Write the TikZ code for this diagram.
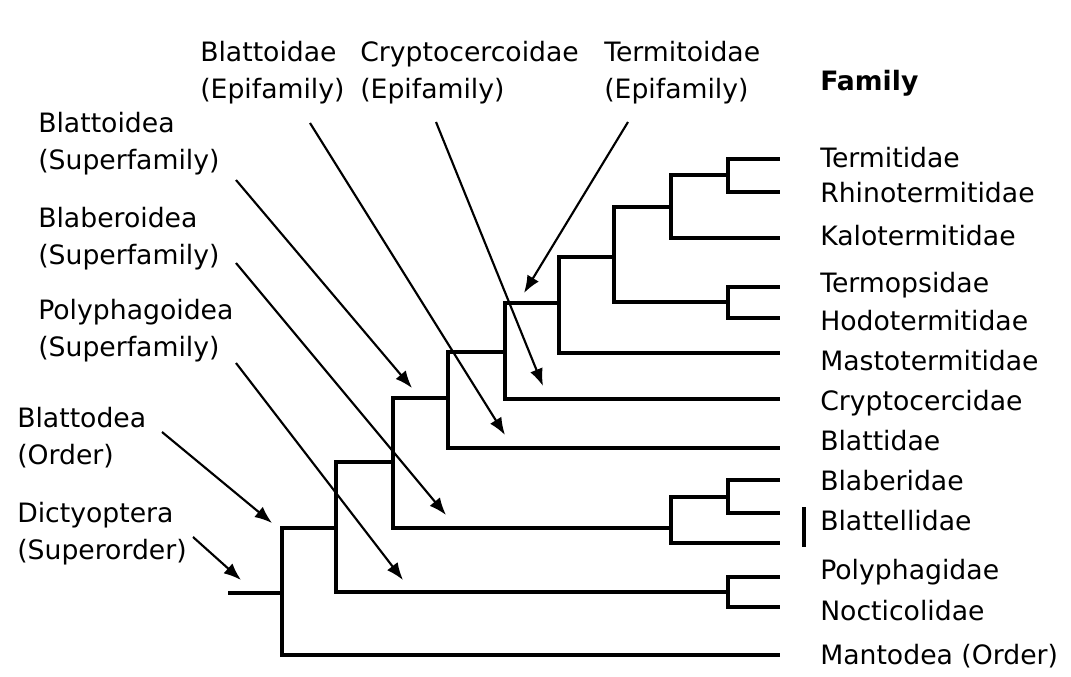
\documentclass[tikz,border=0pt]{standalone}
\usepackage{fontspec}
\setmainfont{DejaVu Sans}
\usetikzlibrary{arrows.meta,positioning}

\tikzset{
  branch/.style={line width=3pt,line join=miter},
  pointer/.style={line width=1.6pt,-{Latex[length=13pt,width=10pt]}},
  taxon/.style={anchor=west,inner sep=0pt,align=left,font=\fontsize{20}{27.75}\selectfont},
  famlabel/.style={anchor=west,inner sep=0pt,text height=0.75em,text depth=0.2em,font=\fontsize{20}{24}\selectfont}
}

\begin{document}
\begin{tikzpicture}[x=0.75pt,y=0.75pt,yscale=-1,xscale=1]
	\useasboundingbox (0,0) rectangle (1071,676);
	
	% leaf ends
	\foreach \i/\y in {1/159,2/192,3/238,4/287,5/318,6/353,7/399,8/448,9/480,10/513,11/543,12/577,13/607,14/655}
		\coordinate (t\i) at (780,\y);
	
	% inner nodes
	\coordinate (n1) at (728,175);
	\coordinate (n2) at (671,207);
	\coordinate (n3) at (728,302);
	\coordinate (n4) at (614,257);
	\coordinate (n5) at (559,303);
	\coordinate (n6) at (505,352);
	\coordinate (n7) at (448,398);
	\coordinate (n8) at (728,497);
	\coordinate (n9) at (671,528);
	\coordinate (n10) at (393,462);
	\coordinate (n11) at (728,592);
	\coordinate (n12) at (336,528);
	\coordinate (n13) at (282,593);
	\coordinate (root) at (228,593);
	
	% tree
	\draw [branch] (n1) |- (t1) (n1) |- (t2);
	\draw [branch] (n2) |- (n1) (n2) |- (t3);
	\draw [branch] (n3) |- (t4) (n3) |- (t5);
	\draw [branch] (n4) |- (n2) (n4) |- (n3);
	\draw [branch] (n5) |- (n4) (n5) |- (t6);
	\draw [branch] (n6) |- (n5) (n6) |- (t7);
	\draw [branch] (n7) |- (n6) (n7) |- (t8);
	\draw [branch] (n8) |- (t9) (n8) |- (t10);
	\draw [branch] (n9) |- (n8) (n9) |- (t11);
	\draw [branch] (n10) |- (n7) (n10) |- (n9);
	\draw [branch] (n11) |- (t12) (n11) |- (t13);
	\draw [branch] (n12) |- (n10) (n12) |- (n11);
	\draw [branch] (n13) |- (n12) (n13) |- (t14);
	\draw [branch] (root) -- (n13);
	
	% family names
	\node [famlabel,font=\fontsize{20}{24}\selectfont\bfseries] (famhead) at (820,87) {Family};
	\foreach \i/\y/\txt in {1/164/Termitidae,2/199/Rhinotermitidae,3/242/Kalotermitidae,4/289/Termopsidae,5/327/Hodotermitidae,6/367/Mastotermitidae,7/407/Cryptocercidae,8/447/Blattidae,9/487/Blaberidae,10/527/Blattellidae,12/576/Polyphagidae,13/617/Nocticolidae,14/661/Mantodea (Order)}
		\node [famlabel] (fam\i) at (820,\y) {\txt};
	\coordinate (bartop) at (804,507);
	\coordinate (barbot) at (804,547);
	\draw [line width=2.4pt] (bartop) -- (barbot);
	
	% rank labels
	\node [taxon] (epiblat) at (200,73) {Blattoidae\\(Epifamily)};
	\node [taxon] (epicryp) at (360,73) {Cryptocercoidae\\(Epifamily)};
	\node [taxon] (epiterm) at (604,73) {Termitoidae\\(Epifamily)};
	\node [taxon] (supblat) at (38,144) {Blattoidea\\(Superfamily)};
	\node [taxon] (supblab) at (38,239) {Blaberoidea\\(Superfamily)};
	\node [taxon] (suppoly) at (38,331) {Polyphagoidea\\(Superfamily)};
	\node [taxon] (ordblat) at (17,438) {Blattodea\\(Order)};
	\node [taxon] (sordict) at (17,534) {Dictyoptera\\(Superorder)};
	
	% arrow ends
	\coordinate (a1) at (236,180);   \coordinate (b1) at (412,388);
	\coordinate (a2) at (236,263);   \coordinate (b2) at (446,515);
	\coordinate (a3) at (236,363);   \coordinate (b3) at (403,580);
	\coordinate (a4) at (162,432);   \coordinate (b4) at (272,523);
	\coordinate (a5) at (193,537);   \coordinate (b5) at (241,580);
	\coordinate (a6) at (310,123);   \coordinate (b6) at (505,435);
	\coordinate (a7) at (436,122);   \coordinate (b7) at (543,386);
	\coordinate (a8) at (628,122);   \coordinate (b8) at (524,293);
	\foreach \i in {1,...,8}
		\draw [pointer] (a\i) -- (b\i);
	
\end{tikzpicture}
\end{document}
